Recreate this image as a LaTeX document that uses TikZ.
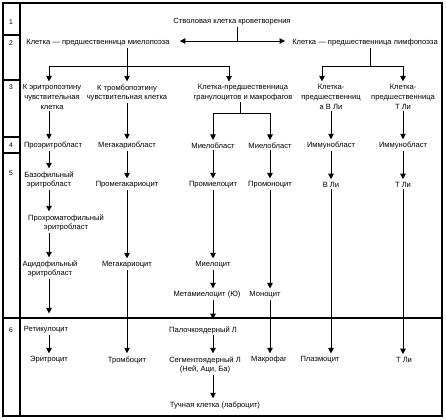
\documentclass[tikz,border=0pt]{standalone}
\usepackage{fontspec}
\setmainfont{Liberation Sans}
\usetikzlibrary{arrows.meta,positioning,calc}

\begin{document}
\begin{tikzpicture}[x=1bp,y=-1bp,
  c/.style={inner sep=1pt,align=center,font=\fontsize{7.6}{9.8}\selectfont},
  num/.style={inner sep=0pt,font=\fontsize{6.8}{8}\selectfont},
  ln/.style={line width=0.9bp},
  arr/.style={ln,-{Triangle[length=5.5bp,width=5.5bp]},shorten >=2bp},
  fr/.style={line width=2bp}]
\useasboundingbox (0,0) rectangle (446,419);
% frame and row numbers
\draw[fr] (3,3) rectangle (442,416);
\draw[fr] (20,3) -- (20,416);
\draw[fr] (3,318) -- (442,318);
\foreach \yy in {35,80,137,153} \draw[fr] (3,\yy) -- (20,\yy);
\foreach \yy/\nn in {22/1,43/2,87/3,145/4,173/5,330/6}
  \node[num] (n\nn) at (11,\yy) {\nn};

% rows 1--3
\node[c] (s1) at (232,22) {Стволовая клетка кроветворения};
\node[c] (m2) at (98,43) {Клетка — предшественница миелопоэза};
\node[c] (l2) at (365,43) {Клетка — предшественница лимфопоэза};
\node[c] (e3) at (52,97) {К эритропоэтину\\чувствительная\\клетка};
\node[c] (t3) at (127,93) {К тромбопоэтину\\чувствительная клетка};
\node[c] (g3) at (243,93) {Клетка-предшественница\\гранулоцитов и макрофагов};
\node[c] (b3) at (331,97) {Клетка-\\предшественниц\\а В Ли};
\node[c] (tl3) at (403,97) {Клетка-\\предшественница\\Т Ли};

% rows 4--5
\node[c] (e4) at (53,146) {Проэритробласт};
\node[c] (t4) at (127,146) {Мегакариобласт};
\node[c] (g4a) at (213,146) {Миелобласт};
\node[c] (g4b) at (270,146) {Миелобласт};
\node[c] (b4) at (331,146) {Иммунобласт};
\node[c] (tl4) at (403,146) {Иммунобласт};
\node[c] (e5) at (49,180) {Базофильный\\эритробласт};
\node[c] (t5) at (127,185) {Промегакариоцит};
\node[c] (g5a) at (213,185) {Промиелоцит};
\node[c] (g5b) at (270,185) {Промоноцит};
\node[c] (b5) at (331,185) {В Ли};
\node[c] (tl5) at (403,185) {Т Ли};
\node[c,fill=white] (e6) at (66,223) {Прохроматофильный\\эритробласт};
\node[c] (e7) at (50,269) {Ацидофильный\\эритробласт};
\node[c] (t7) at (127,265) {Мегакариоцит};
\node[c] (g7) at (213,265) {Миелоцит};
\node[c] (g8) at (207,295) {Метамиелоцит (Ю)};
\node[c] (g8b) at (265,295) {Моноцит};

% row 6
\node[c] (e9) at (46,330) {Ретикулоцит};
\node[c] (g9) at (203,330) {Палочкоядерный Л};
\node[c] (e10) at (49,360) {Эритроцит};
\node[c] (t10) at (127,360) {Тромбоцит};
\node[c] (g10) at (205,365) {Сегментоядерный Л\\(Ней, Аци, Ба)};
\node[c] (g10b) at (269,360) {Макрофаг};
\node[c] (b10) at (320,360) {Плазмоцит};
\node[c] (tl10) at (404,360) {Т Ли};
\node[c] (g11) at (215,405) {Тучная клетка (лаброцит)};

% branches
\coordinate (j0) at (237,41);
\coordinate (j1) at (127,66);
\coordinate (j2) at (370,66);
\coordinate (j3) at (240,113);
\draw[ln] (s1.south -| j0) -- (j0);
\draw[arr,shorten >=9bp] (j0) -- (j0 -| m2.east);
\draw[arr,shorten >=6bp] (j0) -- (j0 -| l2.west);
\draw[arr] (m2.south -| t3.north) -- (t3.north);
\draw[arr] (j1) -| (e5 |- e3.north);
\draw[arr] (j1) -| ([xshift=-14bp]g3.north);
\draw[ln] (l2.south -| j2) -- (j2);
\draw[arr] (j2) -| ([xshift=-9bp]b3.north);
\draw[arr] (j2) -| (tl3.north);
\draw[ln] (g3.south -| j3) -- (j3);
\draw[arr] (j3) -| (g4a.north);
\draw[arr] (j3) -| (g4b.north);

% columns
\draw[arr] (e3.south -| e5) -- (e5 |- e4.north);
\draw[arr] (t3) -- (t4);
\draw[arr] (b3) -- (b4);
\draw[arr] (tl3) -- (tl4);
\draw[arr] (e4.south -| e5) -- (e5);
\draw[arr] (t4) -- (t5);
\draw[arr] (g4a) -- (g5a);
\draw[arr] (g4b) -- (g5b);
\draw[arr] (b4) -- (b5);
\draw[arr] (tl4) -- (tl5);
\draw[arr] (e5) -- (e5 |- e6.north);
\draw[arr] (e6.south -| e5) -- (e5 |- e7.north);
\draw[arr] (t5) -- (t7);
\draw[arr] (g5a) -- (g7);
\draw[arr] (g7) -- (g7 |- g8.north);
\draw[arr] (g5b.south -| g5b) -- (g5b |- g8b.north);
\draw[arr] (b5) -- (b5 |- b10.north);
\draw[arr] (tl5) -- (tl5 |- tl10.north);
\draw[arr,shorten >=12bp] (e7.south -| e5) -- (e5 |- e9.north);
\draw[arr] (e9.south -| e10) -- (e10);
\draw[arr] (t7) -- (t10);
\draw[arr,shorten >=6bp] (g8.south -| g7) -- (g7 |- g9.north);
\draw[arr] (g9.south -| g7) -- (g7 |- g10.north);
\draw[arr] (g10.south -| g7) -- (g7 |- g11.north);
\draw[arr] (g8b.south -| g5b) -- (g5b |- g10b.north);
\end{tikzpicture}
\end{document}
